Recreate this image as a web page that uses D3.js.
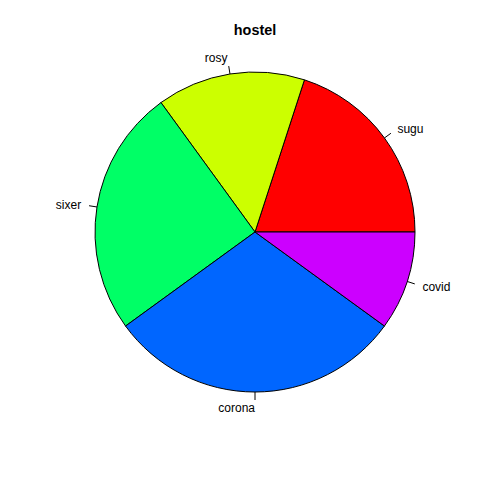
<!DOCTYPE html>
<html>
<head>
<meta charset="utf-8">
<script src="https://cdn.jsdelivr.net/npm/d3@7"></script>
<style>
html,body{margin:0;padding:0;background:#fff;}
svg{display:block;}
</style>
</head>
<body>
<svg id="chart" width="480" height="480"></svg>
<script>
const labels = ["sugu", "rosy", "sixer", "corona", "covid"];
const values = [20, 15, 25, 30, 10];
const colors = ["#FF0000", "#CCFF00", "#00FF66", "#0066FF", "#CC00FF"];
const title = "hostel";

const svg = d3.select("#chart");
const cx = 255, cy = 232, r = 160;
const g = svg.append("g").attr("transform", `translate(${cx},${cy})`);

// R pie: starts at 3 o'clock, counterclockwise
const pie = d3.pie().sort(null).startAngle(Math.PI / 2).endAngle(Math.PI / 2 - 2 * Math.PI);
const arcs = pie(values);
const arc = d3.arc().innerRadius(0).outerRadius(r);

g.selectAll("path.slice").data(arcs).enter().append("path")
  .attr("class", "slice")
  .attr("d", arc)
  .attr("fill", (d, i) => colors[i])
  .attr("stroke", "#000")
  .attr("stroke-width", 1);

const total = d3.sum(values);
let cum = 0;
arcs.forEach((d, i) => {
  const f0 = cum / total;
  cum += values[i];
  const f1 = cum / total;
  const t = 2 * Math.PI * (f0 + f1) / 2; // R angle, counterclockwise from 3 o'clock
  const px = Math.cos(t), py = -Math.sin(t);
  g.append("line")
    .attr("x1", r * px).attr("y1", r * py)
    .attr("x2", r * 1.05 * px).attr("y2", r * 1.05 * py)
    .attr("stroke", "#000").attr("stroke-width", 1);
  g.append("text")
    .attr("x", r * 1.1 * px)
    .attr("y", r * 1.1 * py)
    .attr("dy", "0.35em")
    .attr("text-anchor", px < 0 ? "end" : "start")
    .attr("font-family", "Liberation Sans, Arial, sans-serif")
    .attr("font-size", 12)
    .attr("fill", "#000")
    .text(labels[i]);
});

svg.append("text")
  .attr("x", cx).attr("y", 35)
  .attr("text-anchor", "middle")
  .attr("font-family", "Liberation Sans, Arial, sans-serif")
  .attr("font-weight", "bold")
  .attr("font-size", 14.4)
  .text(title);
</script>
</body>
</html>
